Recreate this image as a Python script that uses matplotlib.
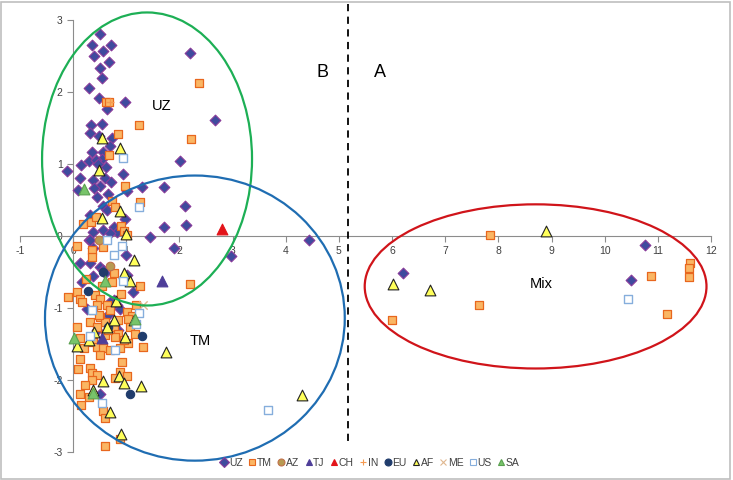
import numpy as np
import matplotlib.pyplot as plt
from matplotlib.patches import Ellipse, Rectangle
from matplotlib.lines import Line2D

plt.rcParams['font.family'] = ['Liberation Sans', 'DejaVu Sans']
plt.rcParams['axes.unicode_minus'] = False

# points, grouped by population
uz = [(0.51,2.80),(0.36,2.65),(0.71,2.65),(0.56,2.57),(0.40,2.50),(0.68,2.41),(2.20,2.54),
      (0.51,2.33),(0.54,2.19),(0.29,2.05),(0.48,1.91),(0.63,1.76),(0.98,1.86),(0.34,1.54),
      (0.55,1.55),(0.31,1.43),(0.48,1.39),(0.73,1.36),(0.35,1.17),(0.70,1.25),(0.57,1.17),
      (0.55,1.07),(0.29,1.04),(0.43,1.05),(0.14,0.98),(-0.12,0.90),(0.93,0.86),(2.01,1.04),
      (2.66,1.61),(0.13,0.80),(0.38,0.78),(0.60,0.80),(0.71,0.75),(0.10,0.64),(0.51,0.69),
      (1.01,0.63),(1.29,0.68),(1.70,0.68),(0.44,0.54),(0.57,0.41),(0.63,0.36),(2.11,0.41),
      (0.98,0.23),(0.32,0.29),(2.12,0.15),(1.70,0.12),(0.57,0.08),(0.76,0.12),(0.82,0.05),
      (0.38,0.05),(0.70,0.04),(0.46,1.00),(0.62,0.96),(0.40,0.66),(0.66,0.58),
      (0.29,-0.05),(1.45,-0.02),(1.89,-0.17),(0.31,-0.06),(0.38,-0.17),(0.99,-0.27),
      (0.13,-0.37),(0.31,-0.38),(0.51,-0.43),(0.57,-0.47),(0.60,-0.51),(0.38,-0.56),
      (1.01,-0.54),(0.16,-0.64),(1.13,-0.78),(0.76,-0.89),(0.26,-1.02),(0.82,-0.96),
      (0.70,-0.92),(0.88,-1.02),(0.66,-1.10),(0.78,-1.20),(0.85,-1.30),(0.44,-1.30),
      (0.50,-2.19),(2.97,-0.28),(4.44,-0.06),(6.20,-0.51),(10.50,-0.61),(10.75,-0.12)]
tm = [(0.61,1.86),(0.68,1.86),(2.37,2.13),(1.24,1.54),(0.85,1.41),(2.22,1.35),(0.68,1.13),
      (0.97,0.70),(1.25,0.47),(0.74,0.48),(0.79,0.40),(0.19,0.17),(0.33,0.19),(0.43,0.27),
      (0.90,0.14),(0.95,0.07),(1.01,0.02),
      (0.07,-0.14),(0.36,-0.19),(0.57,-0.15),(0.35,-0.29),(0.76,-0.52),(0.73,-0.64),
      (2.20,-0.67),(1.26,-0.70),(0.07,-0.78),(-0.09,-0.85),(0.13,-0.87),(0.41,-0.82),
      (0.16,-0.91),(0.51,-0.87),(0.44,-0.96),(0.63,-0.96),(0.38,-1.03),(0.70,-1.03),
      (0.51,-1.12),(1.01,-1.05),(1.10,-1.11),(1.18,-0.96),(0.32,-1.19),(0.60,-1.19),
      (0.85,-1.17),(1.04,-1.15),(0.07,-1.27),(0.44,-1.27),(0.76,-1.26),(1.07,-1.26),
      (0.85,-1.36),(0.60,-1.38),(1.17,-1.36),(0.79,-1.40),(0.13,-1.42),(0.38,-1.47),
      (0.44,-1.54),(0.57,-1.56),(0.70,-1.59),(0.88,-1.56),(1.04,-1.49),(1.31,-1.54),
      (0.12,-1.71),(0.10,-1.85),(0.31,-1.83),(0.35,-1.90),(0.44,-1.93),(0.91,-1.75),
      (0.88,-1.89),(0.79,-1.97),(1.01,-1.94),(0.35,-2.00),(0.23,-2.07),(0.13,-2.20),
      (0.29,-2.24),(0.14,-2.35),(0.57,-2.43),(0.60,-2.53),(0.60,-2.92),(0.88,-2.82),
      (0.48,-1.10),(0.55,-0.70),(0.90,-0.80),(0.25,-0.60),(0.66,-1.30),(0.95,-1.45),
      (0.20,-1.55),(0.50,-1.65),
      (7.85,0.02),(7.63,-0.96),(6.00,-1.17),(10.88,-0.55),(11.17,-1.08),(11.60,-0.37),
      (11.58,-0.44),(11.58,-0.57)]
az = [(0.49,-0.05),(0.70,-0.42)]
tj = [(1.68,-0.62),(0.54,-1.42)]
ch = [(2.80,0.10)]
ind = [(0.70,1.86)]
eu = [(0.27,-0.77),(1.29,-1.39),(1.07,-2.20),(0.57,-0.50),(0.66,-1.26)]
af = [(0.55,1.36),(0.88,1.22),(0.49,0.92),(0.88,0.35),(0.54,0.25),(0.99,0.03),
      (1.15,-0.33),(0.96,-0.51),(1.07,-0.62),(0.81,-0.90),(0.76,-1.16),(1.15,-1.16),
      (0.63,-1.26),(0.40,-1.33),(0.29,-1.44),(0.98,-1.40),(0.08,-1.53),(1.74,-1.61),
      (0.86,-1.94),(0.57,-2.01),(0.95,-2.04),(1.28,-2.09),(0.38,-2.14),(0.70,-2.44),
      (0.90,-2.75),(4.30,-2.21),(6.01,-0.67),(6.72,-0.75),(8.90,0.07)]
me = [(1.32,-0.96)]
us = [(0.93,1.08),(1.23,0.40),(0.91,-0.14),(0.77,-0.26),(0.93,-0.63),(0.35,-1.03),
      (1.23,-1.07),(1.18,-1.22),(0.31,-1.39),(0.79,-1.59),(0.55,-2.32),(3.67,-2.42),
      (10.44,-0.87),(0.64,-0.05)]
sa = [(0.21,0.65),(0.02,-1.41),(0.60,-0.62),(0.37,-2.18),(1.17,-1.15)]

# group ellipses: (centre x, centre y, width, height, colour)
ellipses = [(1.39, 1.07, 3.95, 4.07, '#1DAF55'),
            (2.29, -1.14, 5.64, 3.96, '#1F6DB2'),
            (8.70, -0.70, 6.43, 2.28, '#D0141A')]
split_x = 5.17

fig = plt.figure(figsize=(7.33, 4.80), dpi=100)
ax = fig.add_axes([0.0273, 0.0583, 0.9427, 0.9000])
ax.set_xlim(-1, 12)
ax.set_ylim(-3, 3)

styles = [
    ('UZ', uz, dict(marker='D', s=30, c='#3F4B9E', edgecolors='#8A3C9A', linewidths=0.8)),
    ('TM', tm, dict(marker='s', s=36, c='#FAB664', edgecolors='#E8671E', linewidths=0.9)),
    ('AZ', az, dict(marker='o', s=38, c='#B79A52', edgecolors='#C0704A', linewidths=0.8)),
    ('TJ', tj, dict(marker='^', s=60, c='#4E3E99', edgecolors='#4E3E99', linewidths=0.8)),
    ('CH', ch, dict(marker='^', s=60, c='#E3141A', edgecolors='#E3141A', linewidths=0.8)),
    ('IN', ind, dict(marker='+', s=40, c='#F59A50', linewidths=1.0)),
    ('EU', eu, dict(marker='o', s=36, c='#203C6C', edgecolors='#203C6C', linewidths=0.8)),
    ('AF', af, dict(marker='^', s=60, c='#FFFF5A', edgecolors='#222222', linewidths=0.8)),
    ('ME', me, dict(marker='x', s=36, c='#E0B890', linewidths=1.0)),
    ('US', us, dict(marker='s', s=34, c='white', edgecolors='#86AEDC', linewidths=1.0)),
    ('SA', sa, dict(marker='^', s=60, c='#78C46A', edgecolors='#5AA050', linewidths=0.8)),
]

handles = []
for name, pts, kw in styles:
    arr = np.array(pts)
    ax.scatter(arr[:, 0], arr[:, 1], zorder=3, clip_on=False, **kw)
    h = Line2D([], [], linestyle='none', marker=kw['marker'],
               markersize=5, markerfacecolor=kw['c'],
               markeredgecolor=kw.get('edgecolors', kw['c']), markeredgewidth=0.8,
               color=kw['c'])
    handles.append(h)

for cx, cy, w, h, col in ellipses:
    ax.add_patch(Ellipse((cx, cy), w, h, fill=False, edgecolor=col, lw=1.6,
                         zorder=4, clip_on=False))

ax.plot([split_x, split_x], [3.22, -2.9], ls=(0, (4, 3)), color='black', lw=1.3,
        clip_on=False, zorder=4)

ax.text(4.70, 2.27, 'B', fontsize=13, ha='center', va='center')
ax.text(5.77, 2.27, 'A', fontsize=13, ha='center', va='center')
ax.text(1.67, 1.81, 'UZ', fontsize=10.5, ha='center', va='center')
ax.text(2.39, -1.46, 'TM', fontsize=10.5, ha='center', va='center')
ax.text(8.80, -0.67, 'Mix', fontsize=10.5, ha='center', va='center')

# axes crossing at the origin, Excel style
for side in ('top', 'right'):
    ax.spines[side].set_visible(False)
ax.spines['left'].set_position(('data', 0))
ax.spines['bottom'].set_position(('data', 0))
for side in ('left', 'bottom'):
    ax.spines[side].set_color('#8C8C8C')
    ax.spines[side].set_linewidth(0.8)
ax.set_xticks(range(-1, 13))
ax.set_yticks(range(-3, 4))
ax.tick_params(colors='#8C8C8C', labelcolor='#404040', labelsize=7.5,
               length=4, width=0.8, direction='out')
ax.patch.set_visible(False)

fig.legend(handles, [s[0] for s in styles], loc='center', ncol=11,
           bbox_to_anchor=(0.505, 1 - 463 / 480), frameon=False, fontsize=7.5,
           handletextpad=0.1, columnspacing=0.55, handlelength=0.7,
           labelcolor='#404040')

fig.patches.append(Rectangle((0.002, 0.003), 0.994, 0.992, transform=fig.transFigure,
                             fill=False, edgecolor='#BFBFBF', lw=1.2))

fig.savefig('out.png', dpi=100)
